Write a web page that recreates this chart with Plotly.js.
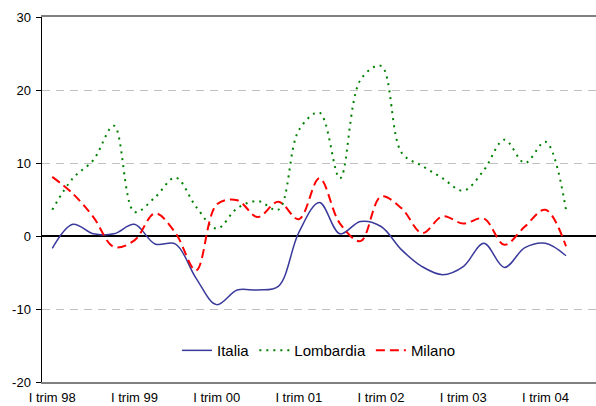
<!DOCTYPE html>
<html>
<head>
<meta charset="utf-8">
<script src="https://cdn.plot.ly/plotly-3.0.1.min.js"></script>
<style>
  html, body { margin: 0; padding: 0; background: #fff; }
  #grafico { width: 596px; height: 406px; }
</style>
</head>
<body>
<div id="grafico"></div>
<script>
// trimestri: da I trim 98 a II trim 04
var trimestri = [
  "I 98", "II 98", "III 98", "IV 98",
  "I 99", "II 99", "III 99", "IV 99",
  "I 00", "II 00", "III 00", "IV 00",
  "I 01", "II 01", "III 01", "IV 01",
  "I 02", "II 02", "III 02", "IV 02",
  "I 03", "II 03", "III 03", "IV 03",
  "I 04", "II 04"
];

// variazioni percentuali
var italia = [
  -1.7, 1.6, 0.3, 0.3, 1.6, -1.1, -1.1, -5.8, -9.4, -7.4, -7.4, -6.9, 0.5,
  4.6, 0.3, 2.0, 1.3, -1.9, -4.2, -5.3, -4.2, -1.0, -4.3, -1.6, -1.0, -2.7
];
var lombardia = [
  3.6, 7.9, 10.4, 15.1, 3.3, 5.3, 8.0, 4.0, 1.0, 3.8, 4.8, 3.6, 14.5,
  16.9, 7.9, 21.4, 23.3, 11.4, 9.6, 7.9, 6.2, 9.0, 13.2, 10.0, 12.9, 3.6
];
var milano = [
  8.1, 5.8, 2.6, -1.5, -0.6, 3.1, 0.4, -4.7, 4.3, 4.9, 2.6, 4.7, 2.3,
  7.9, 1.7, -0.7, 5.4, 3.8, 0.4, 2.7, 1.7, 2.4, -1.2, 1.3, 3.6, -1.4
];

// etichette dell'asse X (una ogni quattro trimestri)
var posEtichette = [0, 4, 8, 12, 16, 20, 24];
var etichette = ["I trim 98", "I trim 99", "I trim 00", "I trim 01", "I trim 02", "I trim 03", "I trim 04"];
// tacche tra un anno e l'altro
var posTacche = [3.5, 7.5, 11.5, 15.5, 19.5, 23.5];

// asse Y (con il trattino normale come nell'originale)
var valoriY = [-20, -10, 0, 10, 20, 30];
var etichetteY = ["-20", "-10", "0", "10", "20", "30"];

var xIdx = trimestri.map(function (t, i) { return i; });

function serie(nome, valori, colore, tratto, spessore) {
  return {
    x: xIdx,
    y: valori,
    name: nome,
    type: "scatter",
    mode: "lines",
    line: { color: colore, dash: tratto, width: spessore, shape: "spline", smoothing: 1 },
    hoverinfo: "skip"
  };
}

var data = [
  serie("Italia", italia, "#3A3A9C", "solid", 1.5),
  serie("Lombardia", lombardia, "#008000", "2px,5px", 2),
  serie("Milano", milano, "#FF0000", "9px,5px", 2)
];

var rangoX = [-0.5, 26.46];

var layout = {
  width: 596,
  height: 406,
  margin: { l: 42, r: 0, t: 17, b: 24 },
  paper_bgcolor: "#fff",
  plot_bgcolor: "#fff",
  font: { family: "Liberation Sans, Arial, sans-serif", size: 13, color: "#000" },
  showlegend: true,
  legend: {
    orientation: "h",
    x: 0.5,
    xanchor: "center",
    y: 0.086,
    yanchor: "middle",
    font: { size: 15 },
    bgcolor: "rgba(0,0,0,0)",
    itemwidth: 30
  },
  xaxis: {
    range: rangoX,
    tickmode: "array",
    tickvals: posEtichette,
    ticktext: etichette,
    ticks: "",
    showgrid: false,
    zeroline: false,
    showline: true,
    linecolor: "#808080",
    linewidth: 2,
    mirror: true,
    ticklabelstandoff: 2,
    fixedrange: true
  },
  xaxis2: {
    overlaying: "x",
    matches: "x",
    anchor: "free",
    position: 0.4,
    range: rangoX,
    tickmode: "array",
    tickvals: posTacche,
    ticks: "outside",
    ticklen: 4,
    tickwidth: 1.5,
    tickcolor: "#808080",
    showticklabels: false,
    showgrid: false,
    zeroline: false,
    showline: false
  },
  yaxis: {
    range: [-20, 30],
    tickmode: "array",
    tickvals: valoriY,
    ticktext: etichetteY,
    ticks: "outside",
    ticklen: 5,
    tickcolor: "#000",
    showline: true,
    linecolor: "#000",
    linewidth: 1.5,
    showgrid: true,
    gridcolor: "#C0C0C0",
    griddash: "8px,6px",
    gridwidth: 1,
    zeroline: true,
    zerolinecolor: "#000",
    zerolinewidth: 1.5,
    ticklabelstandoff: 2,
    fixedrange: true
  }
};

Plotly.newPlot("grafico", data, layout, { staticPlot: true, displayModeBar: false });
</script>
</body>
</html>
